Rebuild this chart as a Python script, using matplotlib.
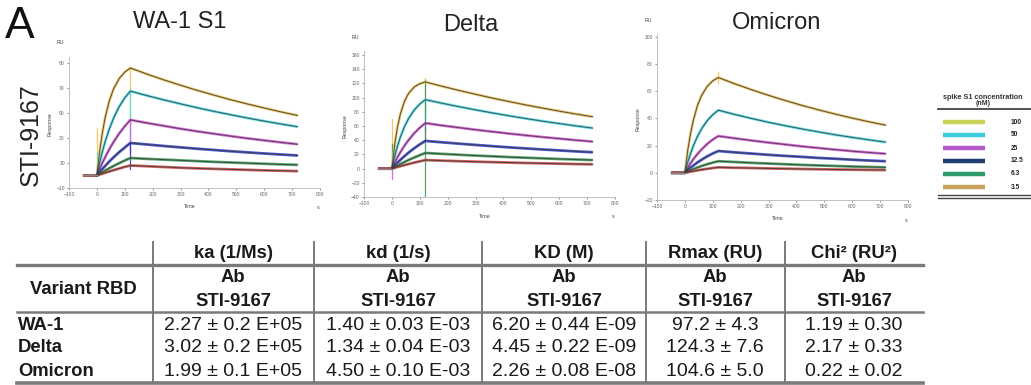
import matplotlib
matplotlib.use("Agg")
import matplotlib.pyplot as plt
from matplotlib.lines import Line2D

plt.rcParams['font.family'] = ['Liberation Sans', 'DejaVu Sans']

W, H = 1031, 385

# ---------------- data ----------------
time_s = [-50, 0, 10, 20, 30, 45, 60, 80, 100, 120,
          180, 240, 300, 360, 420, 480, 540, 600, 660, 720]

concentrations = ["100", "50", "25", "12.5", "6.3", "3.5"]

wa1_100 = [0, 0, 19.4, 34.7, 46.7, 60.1, 69.4, 77.6, 82.7, 86.0, 81.1, 76.5, 72.2, 68.1, 64.3, 60.6, 57.2, 54.0, 50.9, 48.0]
wa1_50 = [0, 0, 10.3, 19.3, 27.4, 37.5, 46.0, 55.1, 62.1, 67.5, 63.9, 60.5, 57.3, 54.2, 51.3, 48.6, 46.0, 43.5, 41.2, 39.0]
wa1_25 = [0, 0, 5.3, 10.3, 14.8, 21.2, 26.9, 33.6, 39.4, 44.5, 42.0, 39.7, 37.4, 35.3, 33.4, 31.5, 29.7, 28.1, 26.5, 25.0]
wa1_12 = [0, 0, 2.7, 5.3, 7.7, 11.3, 14.6, 18.7, 22.4, 26.0, 24.8, 23.6, 22.5, 21.4, 20.4, 19.4, 18.5, 17.6, 16.8, 16.0]
wa1_6 = [0, 0, 1.4, 2.7, 4.0, 5.9, 7.6, 9.9, 12.0, 14.0, 13.3, 12.7, 12.1, 11.5, 10.9, 10.4, 9.9, 9.4, 8.9, 8.5]
wa1_3 = [0, 0, 0.8, 1.5, 2.2, 3.3, 4.3, 5.6, 6.9, 8.0, 7.4, 6.8, 6.2, 5.7, 5.3, 4.9, 4.5, 4.1, 3.8, 3.5]

delta_100 = [0, 0, 33.7, 58.3, 76.3, 94.7, 106.0, 114.9, 119.5, 122.0, 115.9, 110.1, 104.6, 99.3, 94.4, 89.6, 85.2, 80.9, 76.8, 73.0]
delta_50 = [0, 0, 17.0, 31.6, 43.9, 58.9, 70.6, 82.5, 90.9, 97.0, 92.0, 87.2, 82.7, 78.4, 74.3, 70.5, 66.8, 63.4, 60.1, 57.0]
delta_25 = [0, 0, 8.3, 15.9, 22.8, 32.2, 40.3, 49.7, 57.5, 64.0, 60.7, 57.7, 54.7, 52.0, 49.3, 46.8, 44.4, 42.2, 40.0, 38.0]
delta_12 = [0, 0, 4.2, 8.3, 12.1, 17.5, 22.5, 28.6, 34.1, 39.0, 37.0, 35.1, 33.3, 31.6, 29.9, 28.4, 26.9, 25.6, 24.2, 23.0]
delta_6 = [0, 0, 2.2, 4.3, 6.3, 9.3, 12.1, 15.6, 18.9, 22.0, 20.7, 19.5, 18.3, 17.3, 16.2, 15.3, 14.4, 13.5, 12.8, 12.0]
delta_3 = [0, 0, 1.1, 2.3, 3.3, 4.9, 6.4, 8.4, 10.2, 12.0, 11.2, 10.4, 9.7, 9.1, 8.5, 7.9, 7.4, 6.9, 6.4, 6.0]

omi_100 = [0, 0, 16.1, 28.6, 38.4, 49.4, 56.9, 63.5, 67.6, 70.0, 65.3, 61.0, 56.9, 53.1, 49.5, 46.2, 43.1, 40.2, 37.5, 35.0]
omi_50 = [0, 0, 7.5, 14.0, 19.7, 26.7, 32.4, 38.3, 42.7, 46.0, 42.8, 39.9, 37.1, 34.6, 32.2, 30.0, 27.9, 26.0, 24.2, 22.5]
omi_25 = [0, 0, 3.6, 6.9, 9.9, 13.8, 17.2, 21.2, 24.4, 27.0, 25.3, 23.7, 22.2, 20.8, 19.4, 18.2, 17.0, 15.9, 14.9, 14.0]
omi_12 = [0, 0, 1.9, 3.7, 5.3, 7.6, 9.6, 12.1, 14.2, 16.0, 15.0, 14.1, 13.2, 12.4, 11.7, 10.9, 10.3, 9.6, 9.0, 8.5]
omi_6 = [0, 0, 1.0, 1.9, 2.7, 3.9, 5.0, 6.3, 7.5, 8.5, 7.9, 7.3, 6.8, 6.3, 5.8, 5.4, 5.0, 4.6, 4.3, 4.0]
omi_3 = [0, 0, 0.4, 0.9, 1.2, 1.8, 2.3, 2.9, 3.5, 4.0, 3.7, 3.5, 3.2, 3.0, 2.8, 2.6, 2.4, 2.3, 2.1, 2.0]

# injection artefact spikes: (time, low, high, colour index)
wa1_spikes = [(0, 0, 38, 0), (0, 0, 18, 1), (120, 40, 86, 0), (120, 20, 67, 1), (120, 18, 44, 2), (120, 5, 26, 3)]
delta_spikes = [(0, 0, 70, 0), (0, -15, 0, 2), (0, 0, 35, 4), (120, 80, 127, 0), (120, 55, 97, 1), (120, 40, 64, 2), (120, -40, 125, 4)]
omi_spikes = [(120, 66, 74, 0)]

panels = [
    ("WA-1 S1", [wa1_100, wa1_50, wa1_25, wa1_12, wa1_6, wa1_3], wa1_spikes,
     (-10, 95), [-10, 10, 30, 50, 70, 90]),
    ("Delta", [delta_100, delta_50, delta_25, delta_12, delta_6, delta_3], delta_spikes,
     (-40, 165), [-40, -20, 0, 20, 40, 60, 80, 100, 120, 140, 160]),
    ("Omicron", [omi_100, omi_50, omi_25, omi_12, omi_6, omi_3], omi_spikes,
     (-20, 102), [-20, 0, 20, 40, 60, 80, 100]),
]
x_ticks = [-100, 0, 100, 200, 300, 400, 500, 600, 700, 800]

table_cols = ["ka (1/Ms)", "kd (1/s)", "KD (M)", "Rmax (RU)", "Chi² (RU²)"]
table_rows = ["WA-1", "Delta", "Omicron"]
ka_vals = ["2.27 ± 0.2 E+05", "3.02 ± 0.2 E+05", "1.99 ± 0.1 E+05"]
kd_vals = ["1.40 ± 0.03 E-03", "1.34 ± 0.04 E-03", "4.50 ± 0.10 E-03"]
KD_vals = ["6.20 ± 0.44 E-09", "4.45 ± 0.22 E-09", "2.26 ± 0.08 E-08"]
rmax_vals = ["97.2 ± 4.3", "124.3 ± 7.6", "104.6 ± 5.0"]
chi_vals = ["1.19 ± 0.30", "2.17 ± 0.33", "0.22 ± 0.02"]

# ---------------- styling ----------------
curve_colors = ['#f2c24a', '#3fe0ee', '#e04fe0', '#2230d0', '#2f9a4c', '#d0403c']
legend_colors = ['#c9d158', '#3ecbe0', '#b457c9', '#1f3d6e', '#2f9c6c', '#c9a25e']

fig = plt.figure(figsize=(W / 100, H / 100), dpi=100)
fig.patch.set_facecolor('white')


def fx(x):
    return x / W


def fy(y):
    return 1 - y / H


def add_ax(x0, x1, y_top, y_bot):
    return fig.add_axes([fx(x0), fy(y_bot), fx(x1) - fx(x0), fy(y_top) - fy(y_bot)])


# pixel rectangles of the three plot areas: (x0, x1, ytop, ybottom)
rects = [(69, 320, 56.75, 188), (364, 615, 51.4, 197), (657, 908, 34, 200)]
title_pos = [(180, 22), (471, 25), (777, 23)]

for (title, curves, spikes, ylim, yticks), (x0, x1, yt, yb), (tx, ty) in zip(panels, rects, title_pos):
    ax = add_ax(x0, x1, yt, yb)
    ax.set_xlim(-100, 800)
    ax.set_ylim(*ylim)
    for (t, lo, hi, ci) in spikes:
        ax.plot([t, t], [lo, hi], color=curve_colors[ci], lw=0.9, alpha=0.85, zorder=2)
    for ci, vals in enumerate(curves):
        ax.plot(time_s, vals, color=curve_colors[ci], lw=2.0, alpha=0.8, zorder=3,
                solid_capstyle='butt')
    for ci, vals in enumerate(curves):
        ax.plot(time_s[1:], vals[1:], color='#3a3a3a', lw=0.8, alpha=0.8, zorder=4)
    ax.plot(time_s[:2], curves[0][:2], color='#888888', lw=1.0, zorder=4)
    for s in ['top', 'right']:
        ax.spines[s].set_visible(False)
    for s in ['left', 'bottom']:
        ax.spines[s].set_color('#c0c0c0')
        ax.spines[s].set_linewidth(0.7)
    ax.set_xticks(x_ticks)
    ax.set_yticks(yticks)
    ax.tick_params(labelsize=3.6, colors='#666666', length=1.5, width=0.5, pad=1.5)
    ax.set_facecolor('none')
    fig.text(fx(tx), fy(ty), title, fontsize=17, ha='center', va='center', color='#222222')
    # small axis annotations
    fig.text(fx((x0 + x1) / 2 - 5), fy(yb + 19), "Time", fontsize=3.8, ha='center', va='center', color='#444444')
    fig.text(fx(x1 - 2), fy(yb + 20), "s", fontsize=3.8, ha='center', va='center', color='#444444')
    fig.text(fx(x0 - 19), fy((yt + yb) / 2 + 2), "Response", fontsize=3.8, rotation=90,
             ha='center', va='center', color='#444444')
    fig.text(fx(x0 - 9), fy(yt - 14), "RU", fontsize=3.8, ha='center', va='center', color='#444444')

fig.text(fx(20), fy(27), "A", fontsize=32, ha='center', va='center', color='#111111')
fig.text(fx(31), fy(135), "STI-9167", fontsize=18, rotation=90, ha='center', va='center', color='#222222')

# ---------------- concentration legend ----------------
fig.text(fx(983), fy(97.5), "spike S1 concentration", fontsize=5.2, ha='center', va='center',
         color='#333333', fontweight='bold')
fig.text(fx(983), fy(103.5), "(nM)", fontsize=5.0, ha='center', va='center', color='#333333',
         fontweight='bold')
fig.add_artist(Line2D([fx(938), fx(1031)], [fy(108.5), fy(108.5)], color='#444444', lw=1.3))
fig.add_artist(Line2D([fx(938), fx(1031)], [fy(195), fy(195)], color='#444444', lw=1.0))
fig.add_artist(Line2D([fx(938), fx(1031)], [fy(197.5), fy(197.5)], color='#444444', lw=1.0))
row_y = [122, 135, 148, 161, 174, 187]
for lab, col, yy in zip(concentrations, legend_colors, row_y):
    fig.add_artist(Line2D([fx(943), fx(985)], [fy(yy), fy(yy)], color=col, lw=3.2,
                          solid_capstyle='butt'))
    fig.text(fx(1011), fy(yy), lab, fontsize=4.8, ha='left', va='center', color='#222222',
             fontweight='bold')

# ---------------- kinetics table ----------------
col_centers = [233, 398, 564, 715, 854]
vlines_x = [153, 314, 482, 646, 785]
gray = '#7a7a7a'
for vx in vlines_x:
    fig.add_artist(Line2D([fx(vx), fx(vx)], [fy(242), fy(383)], color=gray, lw=1.4))
fig.add_artist(Line2D([fx(17), fx(923)], [fy(265), fy(265)], color=gray, lw=2.4))
fig.add_artist(Line2D([fx(17), fx(923)], [fy(312), fy(312)], color=gray, lw=1.8))
fig.add_artist(Line2D([fx(17), fx(923)], [fy(383), fy(383)], color=gray, lw=2.6))

for cx, name in zip(col_centers, table_cols):
    fig.text(fx(cx), fy(253), name, fontsize=13.3, fontweight='bold', ha='center', va='center',
             color='#1a1a1a')
    fig.text(fx(cx), fy(278), "Ab", fontsize=13.3, fontweight='bold', ha='center', va='center',
             color='#1a1a1a')
    fig.text(fx(cx), fy(302), "STI-9167", fontsize=13.3, fontweight='bold', ha='center',
             va='center', color='#1a1a1a')
fig.text(fx(83), fy(290), "Variant RBD", fontsize=13.3, fontweight='bold', ha='center',
         va='center', color='#1a1a1a')

data_row_y = [326, 348, 371]
for ri, (rname, ry) in enumerate(zip(table_rows, data_row_y)):
    fig.text(fx(18), fy(ry), rname, fontsize=13.3, fontweight='bold', ha='left', va='center',
             color='#1a1a1a')
    for cx, col_vals in zip(col_centers, [ka_vals, kd_vals, KD_vals, rmax_vals, chi_vals]):
        fig.text(fx(cx), fy(ry), col_vals[ri], fontsize=14, ha='center', va='center',
                 color='#1a1a1a')

fig.savefig("out.png", dpi=100, facecolor='white')
